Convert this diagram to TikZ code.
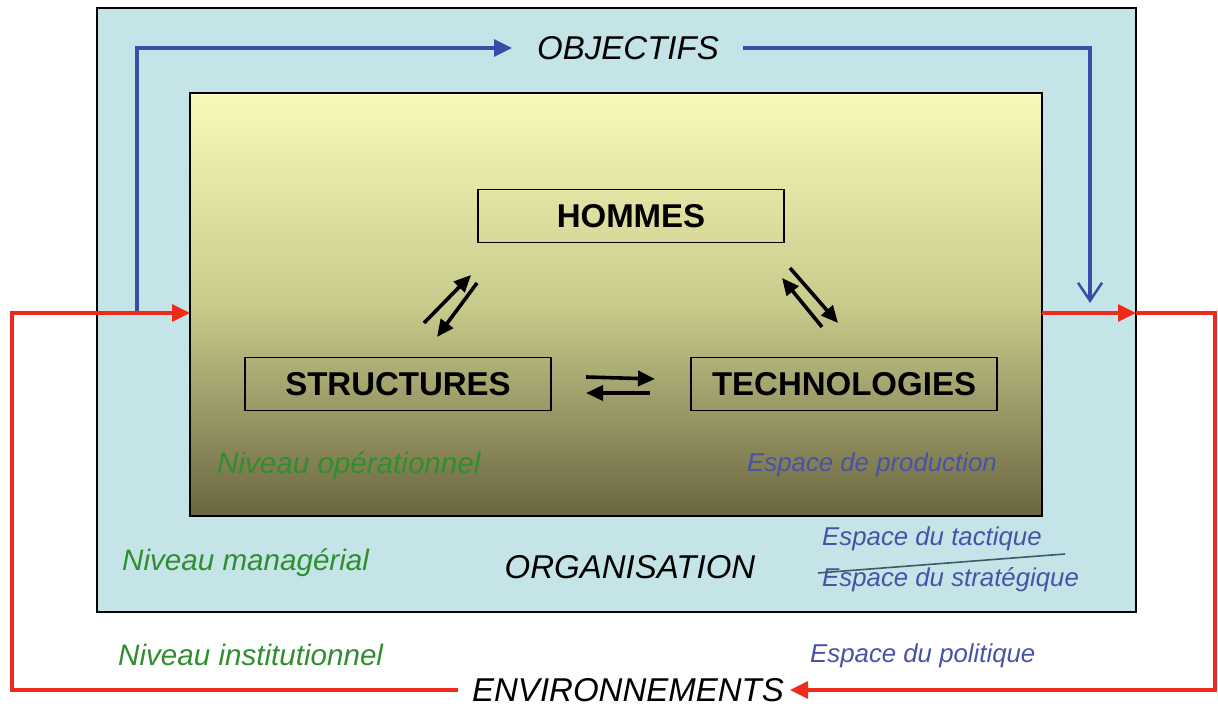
\documentclass[tikz,border=0pt]{standalone}
\usepackage{fontspec}
\setmainfont{Liberation Sans}
\usetikzlibrary{arrows.meta}
\definecolor{outerfill}{HTML}{C5E4E8}
\definecolor{topY}{HTML}{F9FABA}
\definecolor{midY}{HTML}{C9CB8C}
\definecolor{botY}{HTML}{6A6640}
\definecolor{bluel}{HTML}{3B4BAA}
\definecolor{redl}{HTML}{EE2A1A}
\definecolor{greent}{HTML}{2F8F2F}
\definecolor{bluet}{HTML}{4852A8}
\definecolor{slate}{HTML}{3A5A6A}
\begin{document}
\begin{tikzpicture}[x=1pt,y=-1pt,
  bigbox/.style={draw=black,line width=1.5pt,minimum width=306pt,minimum height=53pt,inner sep=0pt,font=\fontsize{33}{37}\selectfont\bfseries},
  bigit/.style={inner sep=0pt,font=\fontsize{33}{37}\selectfont\itshape},
  greenit/.style={inner sep=0pt,anchor=west,text=greent,font=\fontsize{29.6}{34}\selectfont\itshape},
  blueit/.style={inner sep=0pt,anchor=west,text=bluet,font=\fontsize{25.8}{30}\selectfont\itshape},
  bluearrow/.style={draw=bluel,line width=3.2pt},
  redarrow/.style={draw=redl,line width=3.2pt},
  blk/.style={draw=black,line width=3.6pt,-{Triangle[length=17pt,width=15pt]}},
  ftri/.style={-{Triangle[length=18pt,width=17pt]}}
]
\useasboundingbox (0,0) rectangle (1218,708);
% outer organisation box
\draw[fill=outerfill,line width=1.5pt] (97,8) rectangle (1136,612);
% inner shaded box
\shade[top color=topY,bottom color=botY,middle color=midY] (190,93) rectangle (1042,516);
\draw[line width=1.5pt] (190,93) rectangle (1042,516);

% nodes
\node[bigbox] (hom) at (631,216) {HOMMES};
\node[bigbox] (str) at (398,384) {STRUCTURES};
\node[bigbox] (tec) at (844,384) {TECHNOLOGIES};

\node[bigit] (obj) at (628,48) {OBJECTIFS};
\node[bigit] (env) at (628,690) {ENVIRONNEMENTS};
\node[bigit] (org) at (630,567) {ORGANISATION};

\node[greenit] (nop) at (217,466) {Niveau opérationnel};
\node[greenit] (nman) at (122,563) {Niveau managérial};
\node[greenit] (ninst) at (118,655) {Niveau institutionnel};
\node[blueit] (eprod) at (747,465) {Espace de production};
\node[blueit] (etac) at (822,539) {Espace du tactique};
\node[blueit] (estr) at (822,580) {Espace du stratégique};
\node[blueit] (epol) at (810,656) {Espace du politique};
\draw[slate,line width=1.6pt] (818,573) -- (1065,554);

% blue loop
\coordinate (b0) at (137,313);
\coordinate (b1) at (137,48);
\coordinate (b1e) at (512,48);
\coordinate (b2) at (1090,48);
\coordinate (b3) at (1090,303);
\draw[bluearrow,ftri] (b0) -- (b1) -- (b1e);
\draw[bluearrow,-{Straight Barb[length=18pt,width=24pt,line width=2.5pt]}] ([xshift=24pt]obj.east) -- (b2) -- (b3);

% red loop
\coordinate (r0) at (12,690);
\coordinate (r1) at (12,313);
\coordinate (rin) at (190,313);
\coordinate (rout) at (1042,313);
\coordinate (rob) at (1136,313);
\coordinate (r2) at (1215,313);
\coordinate (r3) at (1215,690);
\draw[redarrow,ftri] ([xshift=-14pt]env.west) -- (r0) -- (r1) -- (rin);
\draw[redarrow,ftri] (rout) -- (rob);
\draw[redarrow,ftri] (rob) -- (r2) -- (r3) -- ([xshift=6pt]env.east);

% exchange arrows
\coordinate (a1) at (424,323); \coordinate (a2) at (471,275);
\coordinate (a3) at (477,283); \coordinate (a4) at (437,337);
\draw[blk] (a1) -- (a2);
\draw[blk] (a3) -- (a4);
\coordinate (c1) at (586,377); \coordinate (c2) at (655,379);
\coordinate (c3) at (650,393); \coordinate (c4) at (586,393);
\draw[blk] (c1) -- (c2);
\draw[blk] (c3) -- (c4);
\coordinate (d1) at (790,268); \coordinate (d2) at (838,323);
\coordinate (d3) at (822,327); \coordinate (d4) at (782,278);
\draw[blk] (d1) -- (d2);
\draw[blk] (d3) -- (d4);
\end{tikzpicture}
\end{document}
